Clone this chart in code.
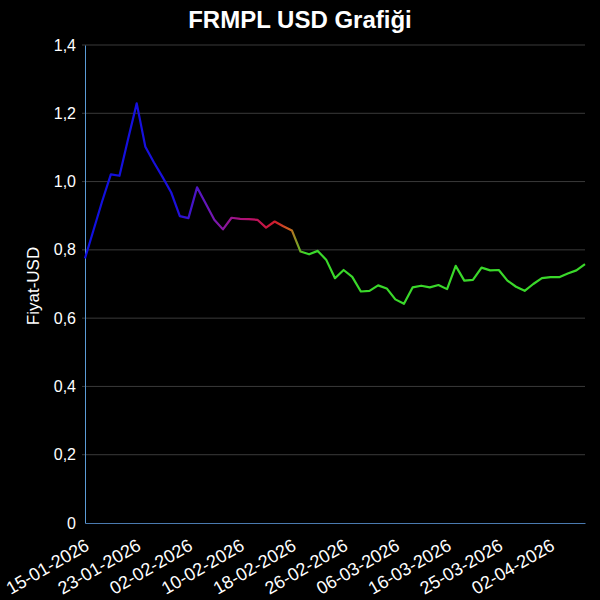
<!DOCTYPE html>
<html>
<head>
<meta charset="utf-8">
<script src="https://cdn.jsdelivr.net/npm/d3@7"></script>
<style>
  html, body { margin: 0; padding: 0; background: #000; }
  svg { display: block; font-family: "Liberation Sans", Arial, sans-serif; }
</style>
</head>
<body>
<div id="chart"></div>
<script>
const dates = [
  "15-01-2026", "16-01-2026", "19-01-2026", "20-01-2026", "21-01-2026", "22-01-2026",
  "23-01-2026", "26-01-2026", "27-01-2026", "28-01-2026", "29-01-2026", "30-01-2026",
  "02-02-2026", "03-02-2026", "04-02-2026", "05-02-2026", "06-02-2026", "09-02-2026",
  "10-02-2026", "11-02-2026", "12-02-2026", "13-02-2026", "16-02-2026", "17-02-2026",
  "18-02-2026", "19-02-2026", "20-02-2026", "23-02-2026", "24-02-2026", "25-02-2026",
  "26-02-2026", "27-02-2026", "02-03-2026", "03-03-2026", "04-03-2026", "05-03-2026",
  "06-03-2026", "09-03-2026", "10-03-2026", "11-03-2026", "12-03-2026", "13-03-2026",
  "16-03-2026", "17-03-2026", "18-03-2026", "19-03-2026", "23-03-2026", "24-03-2026",
  "25-03-2026", "26-03-2026", "27-03-2026", "30-03-2026", "31-03-2026", "01-04-2026",
  "02-04-2026", "03-04-2026", "06-04-2026", "07-04-2026", "08-04-2026"
];

const prices = [
  0.775, 0.859, 0.943, 1.021, 1.017, 1.125, 1.229, 1.102, 1.056, 1.013, 0.968, 0.899,
  0.893, 0.983, 0.936, 0.888, 0.860, 0.894, 0.891, 0.890, 0.888, 0.865, 0.883, 0.869,
  0.857, 0.795, 0.787, 0.797, 0.770, 0.717, 0.741, 0.721, 0.678, 0.680, 0.696, 0.687,
  0.655, 0.642, 0.690, 0.695, 0.690, 0.697, 0.685, 0.753, 0.710, 0.712, 0.748, 0.740,
  0.741, 0.710, 0.692, 0.680, 0.700, 0.717, 0.720, 0.720, 0.731, 0.740, 0.758
];

const xTickLabels = [
  "15-01-2026", "23-01-2026", "02-02-2026", "10-02-2026", "18-02-2026",
  "26-02-2026", "06-03-2026", "16-03-2026", "25-03-2026", "02-04-2026"
];

const yTicks = [0, 0.2, 0.4, 0.6, 0.8, 1.0, 1.2, 1.4];

const data = dates.map((d, i) => ({ date: d, price: prices[i] }));

let width = 600,
  height = 600;
let margin = { top: 45, right: 15, bottom: 77, left: 85 };

const svg = d3
  .select("#chart")
  .append("svg")
  .attr("width", width)
  .attr("height", height);

svg
  .append("rect")
  .attr("width", width)
  .attr("height", height)
  .attr("fill", "#000");

const x = d3
  .scalePoint()
  .domain(dates)
  .range([margin.left, width - margin.right]);

const y = d3
  .scaleLinear()
  .domain([0, 1.4])
  .range([height - margin.bottom, margin.top]);

const fmt = function(d) {
  return d === 0 ? "0" : d.toFixed(1).replace(".", ",");
};

// grid
svg
  .append("g")
  .selectAll("line")
  .data(yTicks.filter(d => d > 0))
  .enter()
  .append("line")
  .attr("x1", margin.left - 3)
  .attr("x2", width - margin.right)
  .attr("y1", d => y(d))
  .attr("y2", d => y(d))
  .attr("stroke", "#3a3a3a")
  .attr("stroke-width", 1);

// y axis
const yAxis = svg
  .append("g")
  .attr("transform", "translate(" + margin.left + ",0)")
  .call(
    d3
      .axisLeft(y)
      .tickValues(yTicks)
      .tickFormat(fmt)
      .tickSize(0)
      .tickPadding(9)
  );
yAxis.select(".domain").attr("stroke", "#5b9bd5").attr("stroke-width", 1);
yAxis
  .selectAll("text")
  .attr("fill", "#fff")
  .style("font-size", "16px")
  .style("font-family", "Liberation Sans, Arial, sans-serif");

// x axis
const xAxis = svg
  .append("g")
  .attr("transform", "translate(0," + (height - margin.bottom) + ")")
  .call(
    d3
      .axisBottom(x)
      .tickValues(xTickLabels)
      .tickSize(0)
      .tickPadding(0)
  );
xAxis.select(".domain").attr("stroke", "#4a7ab0").attr("stroke-width", 1.2);
xAxis
  .selectAll("text")
  .attr("fill", "#fff")
  .attr("dy", 0)
  .attr("y", 0)
  .attr("transform", "translate(5,26) rotate(-30)")
  .style("text-anchor", "end")
  .style("font-size", "18px")
  .style("font-family", "Liberation Sans, Arial, sans-serif");

// gradient stroke
const grad = svg
  .append("defs")
  .append("linearGradient")
  .attr("id", "lineGrad")
  .attr("gradientUnits", "userSpaceOnUse")
  .attr("x1", margin.left)
  .attr("x2", width - margin.right)
  .attr("y1", 0)
  .attr("y2", 0);

[
  [0, "#1010e0"],
  [0.18, "#1a10dc"],
  [0.26, "#7a18b0"],
  [0.33, "#b8106a"],
  [0.38, "#d01c2c"],
  [0.41, "#c86420"],
  [0.44, "#3ad82a"],
  [1, "#3ad82a"]
].forEach(function(s) {
  grad
    .append("stop")
    .attr("offset", s[0])
    .attr("stop-color", s[1]);
});

const line = d3
  .line()
  .x(d => x(d.date))
  .y(d => y(d.price));

svg
  .append("path")
  .datum(data)
  .attr("fill", "none")
  .attr("stroke", "url(#lineGrad)")
  .attr("stroke-width", 2.2)
  .attr("stroke-linejoin", "round")
  .attr("d", line);

// title
svg
  .append("text")
  .attr("x", 300)
  .attr("y", 28)
  .attr("text-anchor", "middle")
  .attr("fill", "#fff")
  .style("font-size", "24px")
  .style("font-weight", "bold")
  .text("FRMPL USD Grafiği");

// y label
svg
  .append("text")
  .attr("transform", "translate(39," + 286 + ") rotate(-90)")
  .attr("text-anchor", "middle")
  .attr("fill", "#fff")
  .style("font-size", "17px")
  .text("Fiyat-USD");
</script>
</body>
</html>
